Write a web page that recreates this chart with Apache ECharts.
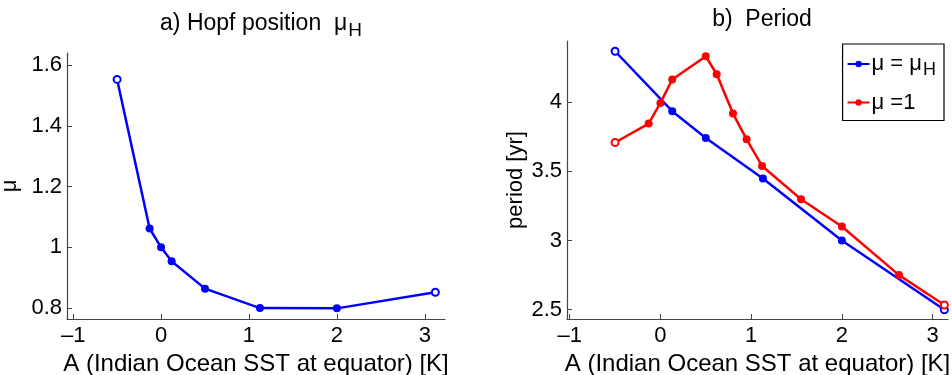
<!DOCTYPE html>
<html>
<head>
<meta charset="utf-8">
<script src="https://cdn.jsdelivr.net/npm/echarts@6/dist/echarts.min.js"></script>
<style>
  html, body { margin: 0; padding: 0; background: #fff; }
  #chart { width: 952px; height: 375px; }
</style>
</head>
<body>
<div id="chart"></div>
<script>
// panel a) Hopf position
const aLeft = [-0.5, -0.13, 0, 0.12, 0.5, 1.125, 2, 3.12];
const muHopf = [1.553, 1.062, 1.0, 0.954, 0.864, 0.80, 0.799, 0.852];

// panel b) period
const aBlue = [-0.5, 0.13, 0.5, 1.13, 2, 3.13];
const periodHopf = [4.366, 3.933, 3.74, 3.447, 3.0, 2.5];
const aRed = [-0.5, -0.13, 0, 0.13, 0.5, 0.62, 0.8, 0.95, 1.12, 1.55, 2, 2.63, 3.13];
const periodOne = [3.707, 3.844, 3.993, 4.162, 4.33, 4.2, 3.916, 3.73, 3.538, 3.298, 3.101, 2.75, 2.534];

const xTicks = [-1, 0, 1, 2, 3];
const yTicksLeft = [0.8, 1, 1.2, 1.4, 1.6];
const yTicksRight = [2.5, 3, 3.5, 4];

const font = 'Liberation Sans, Arial, Helvetica, sans-serif';
const fs = 22;
const axisGrey = '#444';

// first and last markers are open circles
function pts(xs, ys, color) {
  return xs.map((x, i) => {
    const p = { value: [x, ys[i]] };
    if (i === 0 || i === xs.length - 1) {
      p.itemStyle = { color: '#fff', borderColor: color, borderWidth: 2 };
      p.symbolSize = 7;
    }
    return p;
  });
}

function xAxis(idx, min, max) {
  return {
    type: 'value', gridIndex: idx, min: min, max: max,
    name: 'A (Indian Ocean SST at equator) [K]',
    nameLocation: 'middle', nameGap: 22,
    nameTextStyle: { fontFamily: font, fontSize: 24, color: '#000' },
    axisLine: { onZero: false, lineStyle: { color: axisGrey, width: 1.2 } },
    axisTick: { inside: true, length: 5, customValues: xTicks, lineStyle: { color: axisGrey } },
    axisLabel: {
      customValues: xTicks, margin: 6,
      fontFamily: font, fontSize: fs, color: '#000',
      formatter: v => String(v).replace('-', '\u2013')
    },
    splitLine: { show: false }
  };
}

function yAxis(idx, min, max, ticks, name, gap) {
  return {
    type: 'value', gridIndex: idx, min: min, max: max,
    name: name, nameLocation: 'middle', nameGap: gap,
    nameTextStyle: { fontFamily: font, fontSize: fs, color: '#000' },
    axisLine: { show: true, onZero: false, lineStyle: { color: axisGrey, width: 1.2 } },
    axisTick: { show: true, inside: true, length: 5, customValues: ticks, lineStyle: { color: axisGrey } },
    axisLabel: { customValues: ticks, margin: 5, fontFamily: font, fontSize: fs, color: '#000' },
    splitLine: { show: false }
  };
}

const chart = echarts.init(document.getElementById('chart'));
chart.setOption({
  animation: false,
  title: [
    {
      text: '{t|a) Hopf position  \u03bc}{s|H}',
      left: 256, top: 3, textAlign: 'center',
      textStyle: {
        rich: {
          t: { fontFamily: font, fontSize: 23, fontWeight: 'normal', color: '#000' },
          s: { fontFamily: font, fontSize: 19, fontWeight: 'normal', color: '#000', padding: [13, 0, 0, 1] }
        }
      }
    },
    {
      text: 'b)  Period',
      left: 757, top: 3, textAlign: 'center',
      textStyle: { fontFamily: font, fontSize: 23, fontWeight: 'normal', color: '#000' }
    }
  ],
  legend: {
    orient: 'vertical',
    right: 8, top: 44,
    itemWidth: 22, itemHeight: 8, itemGap: 12,
    padding: [9, 8, 7, 4],
    borderColor: '#000', borderWidth: 1.2,
    data: ['muH', 'mu1'],
    formatter: n => n === 'muH' ? '{t|\u03bc = \u03bc}{s|H}' : '{t|\u03bc =1}',
    textStyle: {
      padding: [0, 0, 0, -3],
      rich: {
        t: { fontFamily: font, fontSize: fs, color: '#000' },
        s: { fontFamily: font, fontSize: 18, color: '#000', padding: [13, 0, 0, 1] }
      }
    }
  },
  grid: [
    { left: 67, right: 507, top: 53, bottom: 56, outerBoundsMode: 'none' },
    { left: 567, right: 4, top: 41, bottom: 56, outerBoundsMode: 'none' }
  ],
  xAxis: [xAxis(0, -1.07, 3.23), xAxis(1, -1.03, 3.17)],
  yAxis: [
    yAxis(0, 0.764, 1.64, yTicksLeft, '\u03bc', 46),
    yAxis(1, 2.433, 4.44, yTicksRight, 'period [yr]', 40)
  ],
  series: [
    {
      name: 'muA', type: 'line', xAxisIndex: 0, yAxisIndex: 0,
      data: pts(aLeft, muHopf, '#0000ff'),
      symbol: 'circle', symbolSize: 8,
      lineStyle: { color: '#0000ff', width: 2.5 },
      itemStyle: { color: '#0000ff' }
    },
    {
      name: 'muH', type: 'line', xAxisIndex: 1, yAxisIndex: 1,
      data: pts(aBlue, periodHopf, '#0000ff'),
      symbol: 'circle', symbolSize: 8,
      lineStyle: { color: '#0000ff', width: 2.5 },
      itemStyle: { color: '#0000ff' }
    },
    {
      name: 'mu1', type: 'line', xAxisIndex: 1, yAxisIndex: 1,
      data: pts(aRed, periodOne, '#ff0000'),
      symbol: 'circle', symbolSize: 8,
      lineStyle: { color: '#ff0000', width: 2.5 },
      itemStyle: { color: '#ff0000' }
    }
  ]
});
</script>
</body>
</html>
